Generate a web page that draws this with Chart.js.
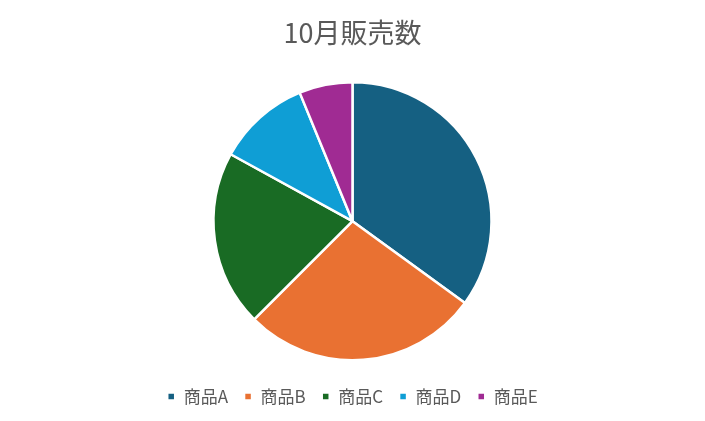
<!DOCTYPE html>
<html>
<head>
<meta charset="utf-8">
<script src="https://cdn.jsdelivr.net/npm/chart.js@4"></script>
<style>
  html, body { margin: 0; padding: 0; background: #fff; }
  .wrap { width: 705px; height: 421px; }
</style>
</head>
<body>
<div class="wrap"><canvas id="salesChart"></canvas></div>
<script>
const TITLE = '10月販売数';
const products = ['商品A', '商品B', '商品C', '商品D', '商品E'];
const sales = [35, 27.5, 20.5, 10.8, 6.2];
const colors = ['#156082', '#E97132', '#196B24', '#0F9ED5', '#A02B93'];

const FONT = "'Noto Sans CJK JP', 'Noto Sans', sans-serif";

new Chart(document.getElementById('salesChart'), {
  type: 'pie',
  data: {
    labels: products,
    datasets: [{
      data: sales,
      backgroundColor: colors,
      borderColor: '#fff',
      borderWidth: 2.5,
      radius: 139,
    }],
  },
  options: {
    responsive: true,
    maintainAspectRatio: false,
    animation: false,
    layout: { padding: { top: 0, bottom: 6 } },
    plugins: {
      title: {
        display: true,
        text: TITLE,
        color: '#595959',
        font: { family: FONT, size: 27, weight: 'normal' },
        padding: { top: 17, bottom: 21 },
      },
      legend: {
        position: 'bottom',
        labels: {
          boxWidth: 8,
          boxHeight: 8,
          color: '#595959',
          font: { family: FONT, size: 17 },
          padding: 16,
        },
      },
      tooltip: { enabled: false },
    },
  },
});
</script>
</body>
</html>
